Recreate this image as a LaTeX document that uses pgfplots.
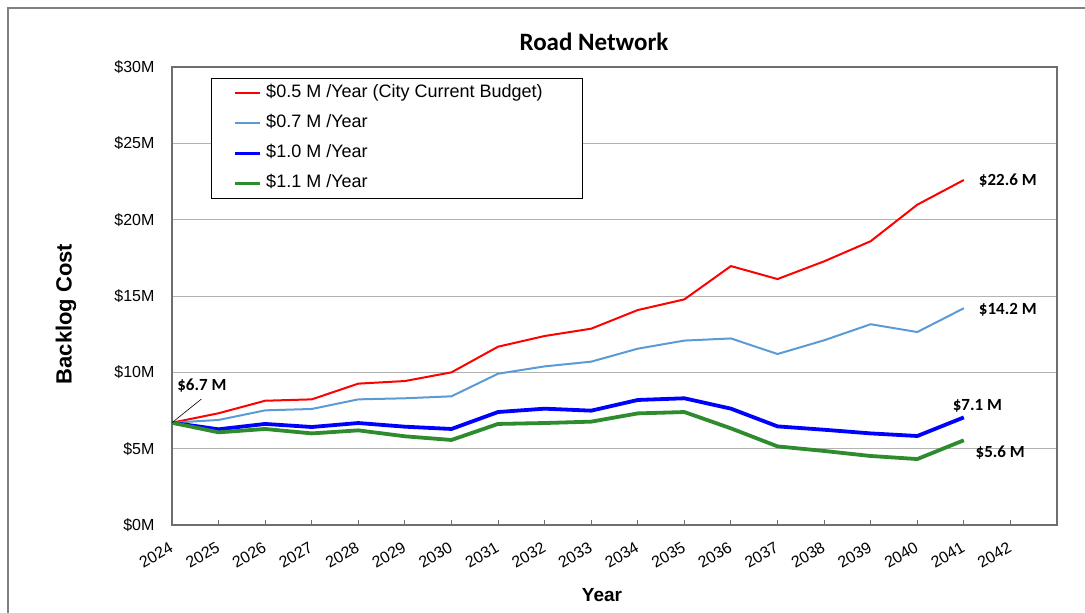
\documentclass[border=0pt]{standalone}
\usepackage{fontspec}
\setmainfont{Liberation Sans}
\newfontfamily\calibri{Carlito}
\usepackage{pgfplots}
\pgfplotsset{compat=1.18}

\definecolor{redline}{RGB}{255,0,0}
\definecolor{lightblueline}{RGB}{91,155,213}
\definecolor{blueline}{RGB}{0,0,255}
\definecolor{greenline}{RGB}{46,139,46}
\definecolor{gridgray}{RGB}{178,178,178}
\definecolor{framegray}{RGB}{110,110,110}

\begin{document}
\begin{tikzpicture}[x=1pt,y=1pt]
\useasboundingbox (0,0) rectangle (1085,-613);
\begin{axis}[
    at={(172pt,-525pt)}, anchor=south west,
    width=885pt, height=458pt, scale only axis,
    xmin=2024, xmax=2043, ymin=0, ymax=30,
    xtick={2024,...,2042},
    ytick={0,5,...,30},
    yticklabels={\$0M,\$5M,\$10M,\$15M,\$20M,\$25M,\$30M},
    /pgf/number format/1000 sep={},
    /pgf/number format/assume math mode=true,
    xticklabel style={rotate=30, anchor=north east, xshift=-7.5pt, yshift=-8.7pt,
        font=\fontsize{16}{19}\selectfont},
    yticklabel style={xshift=-14pt, font=\fontsize{16}{19}\selectfont},
    ymajorgrids,
    major grid style={gridgray, line width=1pt},
    axis line style={framegray, line width=1.3pt},
    xtick pos=bottom, tick align=inside, major tick length=5pt,
    xtick style={framegray, line width=0.8pt},
    ytick style={draw=none},
    legend style={at={(0.044,0.976)}, anchor=north west, draw=black, line width=1pt,
        font=\fontsize{18}{21}\selectfont, cells={anchor=west},
        row sep=10pt, inner xsep=22pt, inner ysep=5pt,
        nodes={inner xsep=4pt, inner ysep=2pt, text height=12pt, text depth=4pt}},
    legend image code/.code={\draw[#1] (0pt,0pt) -- (25pt,0pt);},
]

\addplot[redline, line width=2pt] coordinates {
    (2024,6.7) (2025,7.32) (2026,8.14) (2027,8.23) (2028,9.26) (2029,9.43)
    (2030,10.0) (2031,11.68) (2032,12.38) (2033,12.86) (2034,14.08) (2035,14.78)
    (2036,16.96) (2037,16.11) (2038,17.27) (2039,18.59) (2040,20.98) (2041,22.6)
};
\addlegendentry{\$0.5 M /Year (City Current Budget)\hspace*{14pt}}

\addplot[lightblueline, line width=2pt] coordinates {
    (2024,6.7) (2025,6.88) (2026,7.51) (2027,7.60) (2028,8.23) (2029,8.30)
    (2030,8.43) (2031,9.91) (2032,10.39) (2033,10.70) (2034,11.55) (2035,12.08)
    (2036,12.22) (2037,11.2) (2038,12.1) (2039,13.15) (2040,12.64) (2041,14.2)
};
\addlegendentry{\$0.7 M /Year}

\addplot[blueline, line width=3.8pt] coordinates {
    (2024,6.7) (2025,6.27) (2026,6.62) (2027,6.42) (2028,6.68) (2029,6.44)
    (2030,6.29) (2031,7.40) (2032,7.62) (2033,7.49) (2034,8.19) (2035,8.30)
    (2036,7.62) (2037,6.46) (2038,6.24) (2039,6.0) (2040,5.83) (2041,7.05)
};
\addlegendentry{\$1.0 M /Year}

\addplot[greenline, line width=3.8pt] coordinates {
    (2024,6.7) (2025,6.07) (2026,6.29) (2027,6.0) (2028,6.2) (2029,5.81)
    (2030,5.57) (2031,6.62) (2032,6.68) (2033,6.77) (2034,7.31) (2035,7.40)
    (2036,6.33) (2037,5.15) (2038,4.85) (2039,4.52) (2040,4.32) (2041,5.55)
};
\addlegendentry{\$1.1 M /Year}

% value call-outs
\draw[black, line width=0.6pt] (axis cs:2024,6.7) -- (axis cs:2024.63,8.25);
\begin{scope}[every node/.style={anchor=west, inner sep=0pt,
        font=\calibri\bfseries\fontsize{17}{20}\selectfont}]
\node at (axis cs:2024.11,9.10) {\$6.7 M};
\node at (axis cs:2041.32,22.53) {\$22.6 M};
\node at (axis cs:2041.32,14.08) {\$14.2 M};
\node at (axis cs:2040.76,7.79) {\$7.1 M};
\node at (axis cs:2041.25,4.72) {\$5.6 M};
\end{scope}
\end{axis}

\node[anchor=base, font=\calibri\bfseries\fontsize{25}{30}\selectfont] at (594,-50) {Road Network};
\node[rotate=90, font=\bfseries\fontsize{22}{26}\selectfont] at (66,-314) {Backlog Cost};
\node[font=\bfseries\fontsize{19}{23}\selectfont] at (602,-595) {Year};
\draw[gray, line width=1.2pt] (8,-613) -- (8,-8) -- (1085,-8);
\end{tikzpicture}
\end{document}
